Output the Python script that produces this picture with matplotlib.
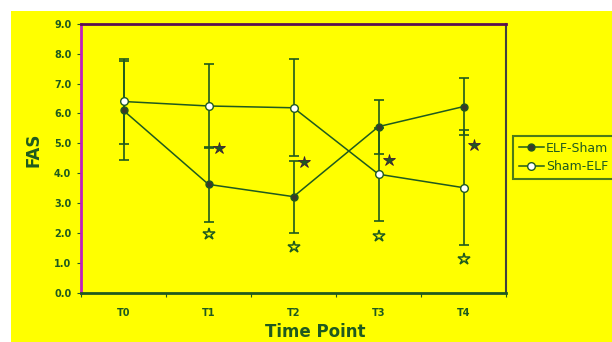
import matplotlib
matplotlib.use("Agg")
import matplotlib.pyplot as plt
from matplotlib.patches import Rectangle
import numpy as np

categories = ["T0", "T1", "T2", "T3", "T4"]
elf_sham = [6.1, 3.63, 3.22, 5.56, 6.23]
elf_sham_err = [1.65, 1.25, 1.2, 0.9, 0.95]
sham_elf = [6.4, 6.25, 6.19, 3.97, 3.52]
sham_elf_err = [1.42, 1.4, 1.62, 1.55, 1.92]
star_filled = [None, 4.83, 4.37, 4.45, 4.95]
star_open = [None, 1.96, 1.55, 1.9, 1.13]
yticks = [0, 1, 2, 3, 4, 5, 6, 7, 8, 9]

GREEN = "#1f5a1f"
MAG = "#c020c0"

fig = plt.figure(figsize=(6.12, 3.42), dpi=100)
fig.patch.set_facecolor("white")
bg = Rectangle((11/612, 0), 1, 1 - 11/342, transform=fig.transFigure,
               facecolor="#ffff00", edgecolor="none", zorder=-10)
fig.patches.append(bg)

ax = fig.add_axes([81/612, 49/342, 425/612, 269.3/342])
ax.set_facecolor("#ffff00")

x = np.arange(len(categories)) + 0.5

ax.errorbar(x, elf_sham, yerr=elf_sham_err, fmt='none', ecolor=GREEN, elinewidth=1.2,
            capsize=3.5, capthick=1.2, zorder=2)
ax.errorbar(x, sham_elf, yerr=sham_elf_err, fmt='none', ecolor=GREEN, elinewidth=1.2,
            capsize=3.5, capthick=1.2, zorder=2)
l1, = ax.plot(x, elf_sham, color=GREEN, lw=1.1, marker='o', ms=5, mfc="#3a3a2a",
              mec=GREEN, mew=1, label="ELF-Sham", zorder=3)
l2, = ax.plot(x, sham_elf, color=GREEN, lw=1.1, marker='o', ms=5.5, mfc="white",
              mec=GREEN, mew=1, label="Sham-ELF", zorder=3)

for i, v in enumerate(star_filled):
    if v is not None:
        ax.plot(x[i] + 0.12, v, marker='*', ms=9, color=GREEN, mec="#3a1a3a", mew=0.6, zorder=4)
for i, v in enumerate(star_open):
    if v is not None:
        ax.plot(x[i], v, marker='*', ms=9, mfc="none", mec=GREEN, mew=1.1, zorder=4)

ax.set_xlim(0, 5)
ax.set_ylim(0, 9)
ax.set_yticks(yticks)
ax.set_yticklabels([f"{t:.1f}" for t in yticks], fontsize=7, fontweight="bold", color=GREEN)
ax.set_xticks(range(6))
ax.set_xticklabels([])
ax.set_xticks(x, minor=True)
ax.set_xticklabels(categories, minor=True, fontsize=7, fontweight="bold", color=GREEN)
ax.tick_params(axis='x', which='minor', length=0, pad=11)
ax.tick_params(axis='x', which='major', length=3, direction='out', color=GREEN)
ax.tick_params(axis='y', length=3, direction='out', color=GREEN, pad=4)

ax.spines['left'].set_color(MAG)
ax.spines['left'].set_linewidth(2)
ax.spines['top'].set_color("#5a1050")
ax.spines['top'].set_linewidth(2)
ax.spines['bottom'].set_color(GREEN)
ax.spines['bottom'].set_linewidth(2)
ax.spines['right'].set_color("#404040")
ax.spines['right'].set_linewidth(1.5)

fig.text(33/612, 1 - 150/342, "FAS", rotation=90, fontsize=12, fontweight="bold",
         color=GREEN, ha="center", va="center")
fig.text(315/612, 1 - 332/342, "Time Point", fontsize=12, fontweight="bold",
         color=GREEN, ha="center", va="center")

leg = fig.legend(handles=[l1, l2], loc="upper left", bbox_to_anchor=(513/612, 1 - 136/342),
                 fontsize=9, frameon=True, fancybox=False, borderpad=0.45, handlelength=2.0,
                 handletextpad=0.2, labelspacing=0.45, borderaxespad=0)
leg.get_frame().set_edgecolor(GREEN)
leg.get_frame().set_linewidth(1.5)
leg.get_frame().set_facecolor("#ffff00")
for t in leg.get_texts():
    t.set_color(GREEN)

fig.savefig("out.png", dpi=100)
